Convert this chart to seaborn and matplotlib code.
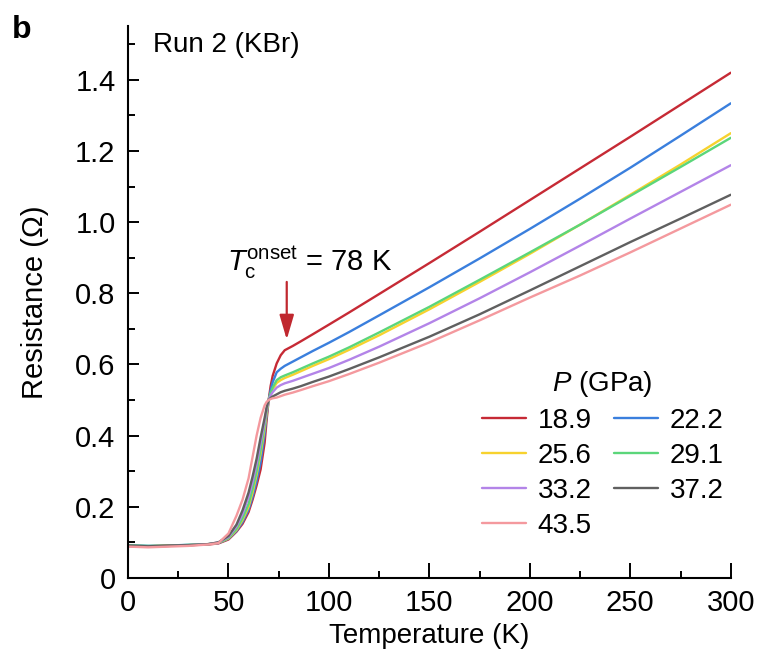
import pandas as pd
import numpy as np
import matplotlib
matplotlib.use("Agg")
import matplotlib.pyplot as plt
import seaborn as sns
from matplotlib.lines import Line2D
from matplotlib.ticker import MultipleLocator

# ================================
# DATA
# ================================
temps = [0, 10, 20, 30, 40, 45, 50, 54, 57, 60, 62, 64, 66, 68, 69, 70, 71, 72,
         74, 76, 78, 82, 86, 92, 100, 110, 125, 150, 175, 200, 225, 250, 275, 300]

pressures = ["18.9", "22.2", "25.6", "29.1", "33.2", "37.2", "43.5"]

r_189 = [0.090, 0.088, 0.090, 0.092, 0.094, 0.097, 0.108, 0.130, 0.152, 0.185, 0.220, 0.260,
         0.305, 0.380, 0.444, 0.500, 0.540, 0.568, 0.603, 0.626, 0.640, 0.652, 0.665, 0.685,
         0.712, 0.746, 0.798, 0.885, 0.973, 1.062, 1.151, 1.240, 1.330, 1.420]
r_222 = [0.092, 0.090, 0.091, 0.093, 0.095, 0.098, 0.110, 0.132, 0.157, 0.192, 0.228, 0.272,
         0.325, 0.405, 0.458, 0.500, 0.528, 0.550, 0.578, 0.588, 0.596, 0.608, 0.620, 0.638,
         0.661, 0.691, 0.738, 0.817, 0.898, 0.981, 1.066, 1.153, 1.243, 1.334]
r_256 = [0.090, 0.089, 0.091, 0.092, 0.095, 0.099, 0.111, 0.135, 0.163, 0.200, 0.240, 0.290,
         0.350, 0.420, 0.465, 0.500, 0.517, 0.530, 0.548, 0.556, 0.562, 0.571, 0.581, 0.596,
         0.615, 0.641, 0.682, 0.755, 0.832, 0.911, 0.993, 1.077, 1.162, 1.250]
r_291 = [0.091, 0.090, 0.090, 0.093, 0.095, 0.099, 0.112, 0.138, 0.168, 0.208, 0.250, 0.300,
         0.360, 0.430, 0.470, 0.500, 0.520, 0.535, 0.556, 0.564, 0.569, 0.578, 0.588, 0.603,
         0.622, 0.648, 0.690, 0.762, 0.838, 0.915, 0.993, 1.074, 1.155, 1.237]
r_332 = [0.089, 0.088, 0.090, 0.092, 0.095, 0.100, 0.115, 0.145, 0.180, 0.228, 0.270, 0.320,
         0.380, 0.440, 0.475, 0.500, 0.513, 0.522, 0.535, 0.542, 0.547, 0.554, 0.562, 0.574,
         0.590, 0.613, 0.650, 0.716, 0.786, 0.859, 0.934, 1.010, 1.085, 1.160]
r_372 = [0.091, 0.089, 0.091, 0.092, 0.095, 0.100, 0.118, 0.150, 0.190, 0.240, 0.285, 0.335,
         0.395, 0.450, 0.480, 0.500, 0.506, 0.510, 0.516, 0.522, 0.526, 0.532, 0.539, 0.551,
         0.566, 0.587, 0.620, 0.678, 0.741, 0.808, 0.876, 0.944, 1.010, 1.077]
r_435 = [0.088, 0.086, 0.088, 0.090, 0.094, 0.098, 0.125, 0.175, 0.220, 0.280, 0.340, 0.400,
         0.450, 0.485, 0.495, 0.500, 0.503, 0.505, 0.507, 0.511, 0.515, 0.521, 0.528, 0.539,
         0.553, 0.573, 0.605, 0.662, 0.724, 0.788, 0.850, 0.915, 0.982, 1.049]

colors = ["#c62a35", "#3a7fdd", "#f7d22e", "#5bd67a", "#b384e8", "#606060", "#f4999e"]

series = [r_189, r_222, r_256, r_291, r_332, r_372, r_435]

# ================================
# STYLE
# ================================
sns.set_style("ticks")
plt.rcParams["font.family"] = ["Liberation Sans", "DejaVu Sans"]
plt.rcParams["mathtext.fontset"] = "custom"
plt.rcParams["mathtext.rm"] = "Liberation Sans"
plt.rcParams["mathtext.it"] = "Liberation Sans:italic"
plt.rcParams["mathtext.bf"] = "Liberation Sans:bold"
plt.rcParams["text.color"] = "black"
plt.rcParams["axes.labelcolor"] = "black"
plt.rcParams["xtick.color"] = "black"
plt.rcParams["ytick.color"] = "black"

fs = 20

rows = []
for p, vals in zip(pressures, series):
    for t, r in zip(temps, vals):
        rows.append({"T": t, "R": r, "P": p})
df = pd.DataFrame(rows)

fig = plt.figure(figsize=(7.62, 6.62), dpi=100)
ax = fig.add_axes([0.168, 0.127, 0.791, 0.833])

sns.lineplot(data=df, x="T", y="R", hue="P", hue_order=pressures,
             palette=colors, linewidth=1.7, legend=False, ax=ax)

ax.set_xlim(0, 300)
ax.set_ylim(0, 1.55)
ax.xaxis.set_minor_locator(MultipleLocator(25))
ax.yaxis.set_minor_locator(MultipleLocator(0.1))
ax.set_yticks([0, 0.2, 0.4, 0.6, 0.8, 1.0, 1.2, 1.4])
ax.set_yticklabels(["0", "0.2", "0.4", "0.6", "0.8", "1.0", "1.2", "1.4"])
ax.set_xticks([0, 50, 100, 150, 200, 250, 300])

ax.tick_params(axis="both", which="major", direction="in", labelsize=fs + 1,
               width=1.4)
ax.tick_params(axis="x", which="major", length=11, pad=8)
ax.tick_params(axis="y", which="major", length=8, pad=9)
ax.tick_params(axis="both", which="minor", direction="in", length=5, width=1.4)
sns.despine(ax=ax)
for s in ["left", "bottom"]:
    ax.spines[s].set_linewidth(1.5)
    ax.spines[s].set_color("black")

ax.set_xlabel("Temperature (K)", fontsize=fs, labelpad=4)
ax.set_ylabel("Resistance (\u03a9)", fontsize=fs + 1, labelpad=19)

# annotations
ax.text(0.041, 0.967, "Run 2 (KBr)", transform=ax.transAxes, fontsize=fs,
        ha="left", va="center")
fig.text(0.016, 0.955, "b", fontsize=fs + 3, fontweight="bold", ha="left", va="center")

ax.text(90.5, 0.888, r"$T_{\rm c}^{\rm onset}$" + " = 78 K", fontsize=fs + 1,
        ha="center", va="center")
ax.annotate("", xy=(79, 0.67), xytext=(79, 0.832),
            arrowprops=dict(arrowstyle="-|>,head_width=0.22,head_length=0.75",
                            color="#c0282f", lw=1.6,
                            mutation_scale=20, shrinkA=0, shrinkB=0))

# legend filled row by row
order = [0, 2, 4, 6, 1, 3, 5]
handles = [Line2D([0], [0], color=colors[i], lw=1.7) for i in order]
labels = [pressures[i] for i in order]
leg = ax.legend(handles, labels, title=r"$P$ (GPa)", ncol=2, frameon=False,
                fontsize=fs, title_fontsize=fs, loc="lower left",
                bbox_to_anchor=(0.555, 0.036), handlelength=1.6,
                handletextpad=0.4, columnspacing=0.8, labelspacing=0.32,
                borderpad=0.2)

fig.savefig("out.png", dpi=100)
